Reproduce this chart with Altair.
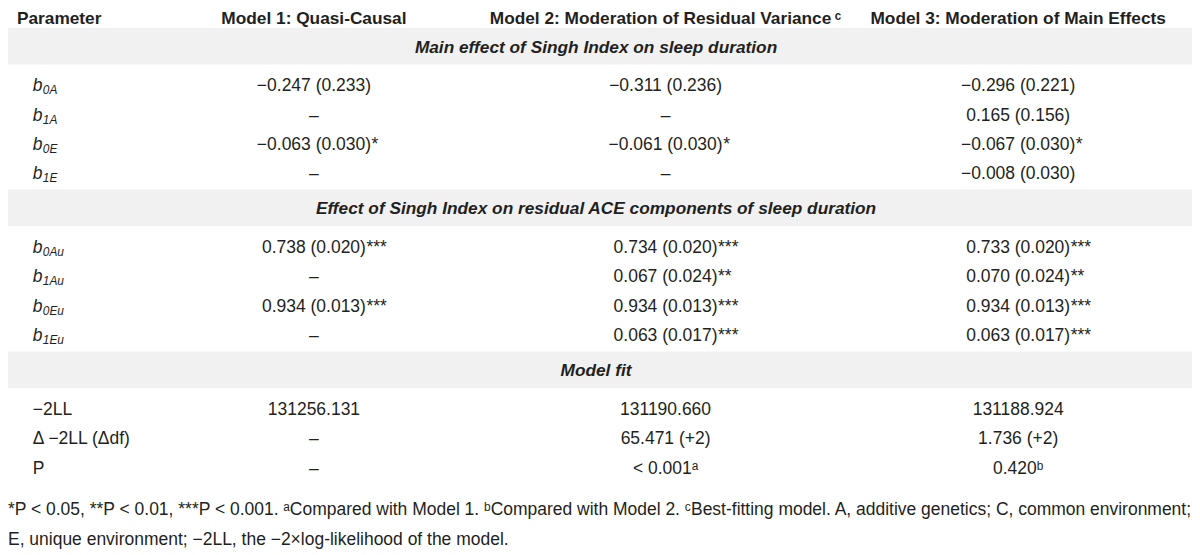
import altair as alt
import pandas as pd

# ---------------- data ----------------
header_labels = [
    "Parameter",
    "Model 1: Quasi-Causal",
    "Model 2: Moderation of Residual Variance\u2009ᶜ",
    "Model 3: Moderation of Main Effects",
]
section_titles = [
    "Main effect of Singh Index on sleep duration",
    "Effect of Singh Index on residual ACE components of sleep duration",
    "Model fit",
]
b_subscripts = [["0A", "1A", "0E", "1E"], ["0Au", "1Au", "0Eu", "1Eu"]]
fit_labels = ["−2LL", "Δ −2LL (Δdf)", "P"]

model1 = ["−0.247 (0.233)", "–", "−0.063 (0.030)*", "–",
          "0.738 (0.020)***", "–", "0.934 (0.013)***", "–",
          "131256.131", "–", "–"]
model2 = ["−0.311 (0.236)", "–", "−0.061 (0.030)*", "–",
          "0.734 (0.020)***", "0.067 (0.024)**", "0.934 (0.013)***", "0.063 (0.017)***",
          "131190.660", "65.471 (+2)", "< 0.001ᵃ"]
model3 = ["−0.296 (0.221)", "0.165 (0.156)", "−0.067 (0.030)*", "−0.008 (0.030)",
          "0.733 (0.020)***", "0.070 (0.024)**", "0.934 (0.013)***", "0.063 (0.017)***",
          "131188.924", "1.736 (+2)", "0.420ᵇ"]

footnote_lines = [
    "*P < 0.05, **P < 0.01, ***P < 0.001. ᵃCompared with Model 1. ᵇCompared with Model 2. "
    "ᶜBest-fitting model. A, additive genetics; C, common environment;",
    "E, unique environment; −2LL, the −2×log-likelihood of the model.",
]

# ---------------- layout / style ----------------
FONT = "Liberation Sans, Arial, sans-serif"
FS = 17.6
HEAD_FS = 17.4
SUB_FS = 12
FOOT_FS = 17.6
INK = "#231f20"
BAND_FILL = "#f1f1f1"
COL_X = [316, 670, 1025]
PARAM_X = 33
HEADER_X = 17
HEADER_Y = 22
BAND_TOP0 = 26
BAND_H = 37
ROW_PITCH = 29.5
FIRST_OFFSET = 27
AFTER_GAP = 9.5
FOOT_X = 8
FOOT_GAP = 42
FOOT_PITCH = 30

ARIAL_W = {**{d: 556 for d in "0123456789"}, ".": 278, " ": 278, "(": 333, ")": 333,
           "−": 584, "+": 584, "<": 584, "–": 556}


def est_width(s, size):
    return sum(ARIAL_W.get(ch, 556) for ch in s) * size / 1000.0


# compute row geometry
section_sizes = [len(b_subscripts[0]), len(b_subscripts[1]), len(fit_labels)]
bands, row_y = [], []
top = BAND_TOP0
for n in section_sizes:
    bands.append((top, top + BAND_H))
    base = top + BAND_H + FIRST_OFFSET
    ys = [base + i * ROW_PITCH for i in range(n)]
    row_y.extend(ys)
    top = ys[-1] + AFTER_GAP + 1
foot_y = [row_y[-1] + FOOT_GAP + i * FOOT_PITCH for i in range(len(footnote_lines))]

band_df = pd.DataFrame({
    "x": [8] * 3, "x2": [1200] * 3,
    "y": [b[0] for b in bands], "y2": [b[1] for b in bands],
})
band_title_df = pd.DataFrame({
    "x": [600] * 3, "y": [(b[0] + b[1]) / 2 + 6.5 for b in bands], "t": section_titles,
})
head_left_df = pd.DataFrame({"x": [HEADER_X], "y": [HEADER_Y], "t": [header_labels[0]]})
head_center_df = pd.DataFrame({"x": COL_X, "y": [HEADER_Y] * 3, "t": header_labels[1:]})

subs = b_subscripts[0] + b_subscripts[1]
b_df = pd.DataFrame({"x": [PARAM_X] * len(subs), "y": row_y[:len(subs)], "t": ["b"] * len(subs)})
sub_df = pd.DataFrame({"x": [PARAM_X + 10] * len(subs), "y": [y + 3 for y in row_y[:len(subs)]], "t": subs})
fit_df = pd.DataFrame({"x": [PARAM_X] * len(fit_labels), "y": row_y[len(subs):], "t": fit_labels})

val_rows, star_rows = [], []
for cx, col in zip(COL_X, [model1, model2, model3]):
    for y, v in zip(row_y, col):
        main = v.rstrip("*")
        stars = v[len(main):]
        val_rows.append({"x": cx, "y": y, "t": main})
        if stars:
            star_rows.append({"x": cx + est_width(main, FS) / 2 + 0.5, "y": y, "t": stars})
val_df = pd.DataFrame(val_rows)
star_df = pd.DataFrame(star_rows)
foot_df = pd.DataFrame({"x": [FOOT_X] * len(footnote_lines), "y": foot_y, "t": footnote_lines})

xs = alt.Scale(domain=[8, 1200])
ys = alt.Scale(domain=[8, 555], reverse=True)


def enc(ch):
    return ch.encode(
        x=alt.X("x:Q", scale=xs, axis=None),
        y=alt.Y("y:Q", scale=ys, axis=None),
        text="t:N",
    )


def txt(df, align="left", size=FS, weight="normal", style="normal"):
    return enc(alt.Chart(df).mark_text(
        align=align, baseline="alphabetic", font=FONT, fontSize=size,
        fontWeight=weight, fontStyle=style, color=INK,
    ))


bands_layer = alt.Chart(band_df).mark_rect(color=BAND_FILL).encode(
    x=alt.X("x:Q", scale=xs, axis=None), x2="x2",
    y=alt.Y("y:Q", scale=ys, axis=None), y2="y2",
)

chart = alt.layer(
    bands_layer,
    txt(head_left_df, size=HEAD_FS, weight="bold"),
    txt(head_center_df, align="center", size=HEAD_FS, weight="bold"),
    txt(band_title_df, align="center", size=HEAD_FS, weight="bold", style="italic"),
    txt(b_df, style="italic"),
    txt(sub_df, size=SUB_FS, style="italic"),
    txt(fit_df),
    txt(val_df, align="center"),
    txt(star_df),
    txt(foot_df, size=FOOT_FS),
).properties(
    width=1192, height=547, padding=0,
    autosize=alt.AutoSizeParams(type="none"),
    background="white",
).configure_view(strokeWidth=0)

chart.save("out.html", embed_options={"renderer": "svg", "actions": False})
